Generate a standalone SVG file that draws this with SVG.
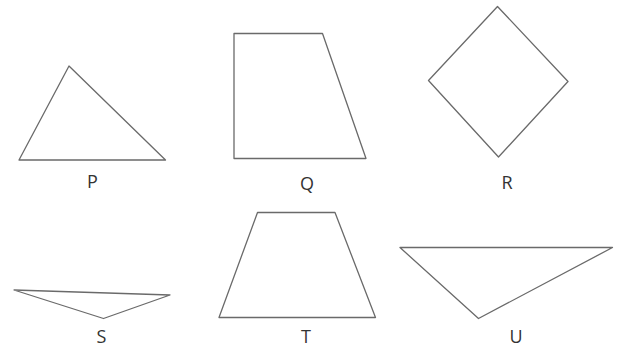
<svg xmlns="http://www.w3.org/2000/svg" width="626" height="349" viewBox="0 0 626 349">
<style>
.s{fill:#fff;stroke:#6a6a6a;stroke-width:1.3;stroke-linejoin:round}
.l{font-family:"Open Sans","DejaVu Sans",sans-serif;font-size:18px;fill:#333;text-anchor:middle}
</style>
<rect width="626" height="349" fill="#fff"/>
<g id="P"><polygon class="s" points="69,66 165.5,160 19,160"/><text class="l" x="92.5" y="188">P</text></g>
<g id="Q"><polygon class="s" points="234,33.5 322.5,33.5 366,158.5 234,158.5"/><text class="l" x="307" y="189.5">Q</text></g>
<g id="R"><polygon class="s" points="497.5,6.5 568,81.5 498.5,157 428.5,80.5"/><text class="l" x="507" y="189">R</text></g>
<g id="S"><polygon class="s" points="14,290 170,295 103.5,318.5"/><text class="l" x="101.5" y="343">S</text></g>
<g id="T"><polygon class="s" points="257.5,212.5 335,212.5 375.5,317.5 219,317.5"/><text class="l" x="306" y="343">T</text></g>
<g id="U"><polygon class="s" points="400,247.5 612.5,247.5 478.5,318.5"/><text class="l" x="516" y="343">U</text></g>
<g id="connectors"/>
</svg>
